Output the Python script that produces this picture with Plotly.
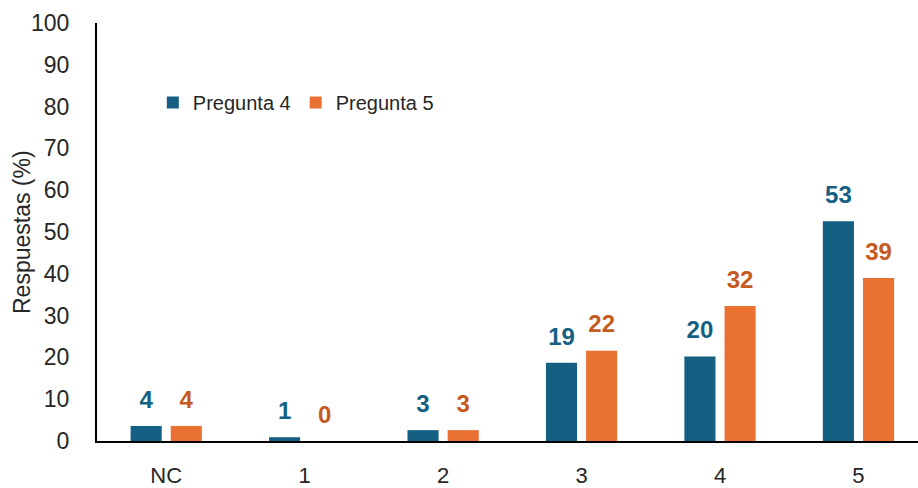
import plotly.graph_objects as go

# Response shares (%) per answer option
categorias = ["NC", "1", "2", "3", "4", "5"]
pregunta_4 = [3.6, 0.9, 2.6, 18.7, 20.2, 52.6]
pregunta_5 = [3.6, 0.0, 2.6, 21.6, 32.3, 39.0]
ticks_y = [0, 10, 20, 30, 40, 50, 60, 70, 80, 90, 100]

AZUL = "#156082"
NARANJA = "#E97132"
NARANJA_TXT = "#C65B1F"
TEXTO = "#262626"
FUENTE = "Liberation Sans, Arial, sans-serif"

fig = go.Figure()

series = [("Pregunta 4", pregunta_4, AZUL, AZUL),
          ("Pregunta 5", pregunta_5, NARANJA, NARANJA_TXT)]

for nombre, valores, color, color_txt in series:
    fig.add_trace(go.Bar(
        x=categorias, y=valores, name=nombre,
        marker=dict(color=color, line=dict(width=0)),
        offsetgroup=nombre,
    ))

# value labels, grouped the same way as the bars and lifted by an invisible marker
for nombre, valores, color, color_txt in series:
    fig.add_trace(go.Scatter(
        x=categorias, y=valores, mode="markers+text",
        texttemplate="%{y:.0f}", textposition="top center",
        textfont=dict(family=FUENTE, size=24, color=color_txt, weight="bold"),
        marker=dict(size=18, opacity=0),
        offsetgroup=nombre, showlegend=False, hoverinfo="skip",
    ))

fig.update_layout(
    width=918, height=488,
    margin=dict(l=97, r=0, t=23, b=45),
    paper_bgcolor="white", plot_bgcolor="white",
    barmode="group", bargap=0.42, bargroupgap=0.225,
    scattermode="group", scattergap=0.42,
    font=dict(family=FUENTE, color=TEXTO),
    legend=dict(
        orientation="h", x=0.068, xanchor="left", y=0.81, yanchor="middle",
        font=dict(family=FUENTE, size=20, color=TEXTO),
        itemwidth=30, bgcolor="rgba(0,0,0,0)",
    ),
    xaxis=dict(
        type="category", range=[-0.5, 5.43],
        showline=True, linecolor="black", linewidth=2,
        ticks="", tickfont=dict(family=FUENTE, size=22, color=TEXTO),
        ticklabelstandoff=14, showgrid=False, zeroline=False,
    ),
    yaxis=dict(
        range=[0, 100], tickvals=ticks_y,
        showline=True, linecolor="black", linewidth=2,
        ticks="", tickfont=dict(family=FUENTE, size=23, color=TEXTO),
        ticklabelstandoff=21, showgrid=False, zeroline=False,
    ),
    annotations=[dict(
        text="Respuestas (%)", textangle=-90, showarrow=False,
        xref="paper", yref="paper", x=0, y=0.5,
        xanchor="center", yanchor="middle", xshift=-75,
        font=dict(family=FUENTE, size=23, color=TEXTO),
    )],
)

fig.write_html("out.html")
